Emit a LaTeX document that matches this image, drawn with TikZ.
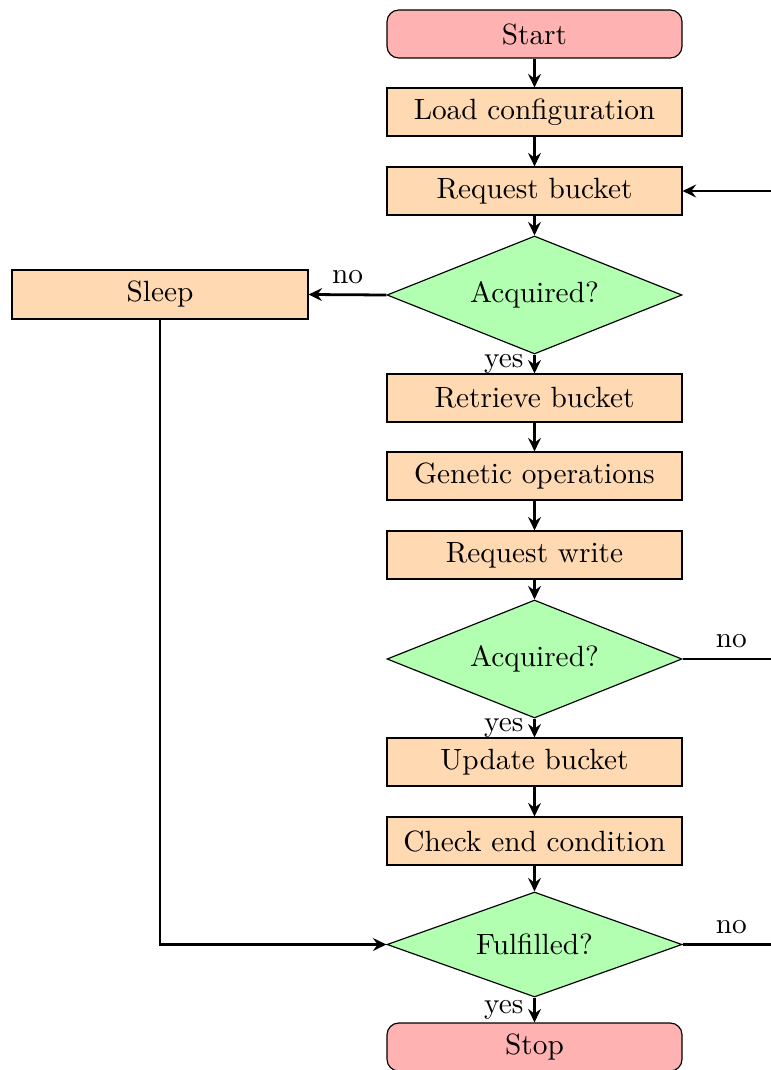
\documentclass[tikz,border=0pt]{standalone}
\usetikzlibrary{shapes.geometric, arrows.meta}

% one unit = one drawing pixel (0.3413pt), y grows downwards
\tikzset{
  x=0.3413pt, y=-0.3413pt,
  terminal/.style={rectangle, rounded corners=4pt, draw, fill=red!30,
    minimum width=100.68pt, minimum height=16.38pt, inner sep=0pt},
  process/.style={rectangle, draw, fill=orange!30,
    minimum width=100.68pt, minimum height=16.38pt, inner sep=0pt},
  decision/.style={diamond, aspect=2.5, draw, fill=green!30,
    minimum width=100.68pt, minimum height=40.27pt, inner sep=0pt},
  wire/.style={line width=0.95pt},
  flow/.style={wire, -{Stealth[length=4.6pt, width=4.4pt, inset=1.6pt]}},
}

\begin{document}
\begin{tikzpicture}
  \useasboundingbox (0,0) rectangle (771,1070);

  % main column
  \node[terminal] (start) at (534.5,34) {Start};
  \node[process]  (load)  at (534.5,112) {Load configuration};
  \node[process]  (reqb)  at (534.5,191) {Request bucket};
  \node[decision] (acq1)  at (534.5,295) {Acquired?};
  \node[process]  (retr)  at (534.5,398) {Retrieve bucket};
  \node[process]  (gen)   at (534.5,476) {Genetic operations};
  \node[process]  (reqw)  at (534.5,555) {Request write};
  \node[decision] (acq2)  at (534.5,659) {Acquired?};
  \node[process]  (upd)   at (534.5,762) {Update bucket};
  \node[process]  (chk)   at (534.5,841) {Check end condition};
  \node[decision, minimum height=35.84pt] (ful) at (534.5,944.5) {Fulfilled?};
  \node[terminal] (stop)  at (534.5,1047) {Stop};

  % side branch
  \node[process, minimum width=101pt, minimum height=16.72pt] (sleep) at (160,294.5) {Sleep};

  % loose ends on the right border
  \coordinate (rin)  at (771,191);
  \coordinate (rno2) at (771,659);
  \coordinate (rno3) at (771,944.5);

  % connectors
  \draw[flow] (start) -- (load);
  \draw[flow] (load) -- (reqb);
  \draw[flow] (reqb) -- (acq1);
  \draw[flow] (acq1) -- node[left] {yes} (retr);
  \draw[flow] (acq1.west) -- node[above] {no} (sleep.east);
  \draw[flow] (retr) -- (gen);
  \draw[flow] (gen) -- (reqw);
  \draw[flow] (reqw) -- (acq2);
  \draw[flow] (acq2) -- node[left] {yes} (upd);
  \draw[wire] (acq2.east) -- node[above, pos=0.55] {no} (rno2);
  \draw[flow] (upd) -- (chk);
  \draw[flow] (chk) -- (ful);
  \draw[flow] (ful) -- node[left] {yes} (stop);
  \draw[wire] (ful.east) -- node[above, pos=0.55] {no} (rno3);
  \draw[flow] (sleep.south) |- (ful.west);
  \draw[flow] (rin) -- (reqb.east);
\end{tikzpicture}
\end{document}
